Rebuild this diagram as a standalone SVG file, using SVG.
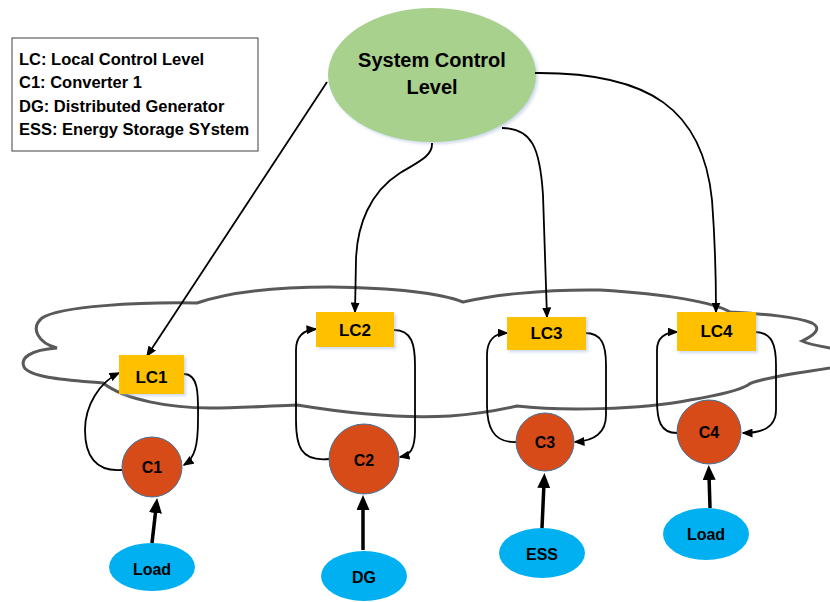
<svg xmlns="http://www.w3.org/2000/svg" width="830" height="602" viewBox="0 0 830 602">
<defs>
<style>
text{font-family:"Liberation Sans",Arial,sans-serif;font-weight:bold;fill:#000;}
.lbl{text-anchor:middle;}
.lc{fill:#FFC000;}
.conv{fill:#D64B17;stroke:#41719C;stroke-width:1;}
.src{fill:#00B0F0;}
.c{fill:none;stroke:#000;stroke-width:1.8;marker-end:url(#ah);}
.t{fill:none;stroke:#000;stroke-width:3.5;marker-end:url(#ahb);}
</style>
<marker id="ah" markerUnits="userSpaceOnUse" markerWidth="11" markerHeight="9" refX="9.5" refY="4.5" orient="auto">
<path d="M0,0 L11,4.5 L0,9 z" fill="#000"/>
</marker>
<marker id="ahb" markerUnits="userSpaceOnUse" markerWidth="15" markerHeight="13" refX="5" refY="6.5" orient="auto">
<path d="M0,0 L15,6.5 L0,13 z" fill="#000"/>
</marker>
<filter id="sh" x="-10%" y="-10%" width="130%" height="130%">
<feGaussianBlur in="SourceAlpha" stdDeviation="1.5"/>
<feOffset dx="1.5" dy="1.5" result="b"/>
<feFlood flood-color="#9DB4D8" flood-opacity="0.5"/>
<feComposite in2="b" operator="in"/>
<feMerge><feMergeNode/><feMergeNode in="SourceGraphic"/></feMerge>
</filter>
</defs>

<g id="legend">
<rect x="12" y="38" width="246" height="113" fill="#fff" stroke="#404040" stroke-width="1"/>
<text x="19" y="65" font-size="16.5">LC: Local Control Level</text>
<text x="19" y="88" font-size="16.5">C1: Converter 1</text>
<text x="19" y="112" font-size="16.5">DG: Distributed Generator</text>
<text x="19" y="135" font-size="16.5">ESS: Energy Storage SYstem</text>
</g>

<g id="cloud">
<path d="M197,303 C140,302 60,306 42,318 C30,328 38,343 57,348 C30,350 20,358 24,367 C30,378 70,380 103,383 C125,400 170,408 210,408 C240,408 270,406 297,405 C340,412 400,419 450,416 C480,414 500,410 517,406 C560,411 640,410 690,400 C720,395 740,390 748,385 C752,380 790,374 830,368 C850,364 850,350 830,348 C818,346 808,344 802,341 C815,335 822,328 812,323 C795,316 760,314 730,312 C715,303 670,294 600,290 C540,289 490,296 463,302 C440,293 400,288 330,287 C260,287 220,295 197,303 Z" fill="none" stroke="#595959" stroke-width="3"/>
</g>

<g id="system">
<ellipse cx="432" cy="75" rx="104" ry="67" fill="#A9D18E" filter="url(#sh)"/>
<text class="lbl" x="432" y="67" font-size="20">System Control</text>
<text class="lbl" x="432" y="94" font-size="20">Level</text>
</g>

<g id="connectors">
<path class="c" d="M327,82 L147,356"/>
<path class="c" d="M432,143 C433,156 418,162 400,173 C370,192 357,225 356,260 L355,312"/>
<path class="c" d="M502,128 C532,128 540,148 543,195 L547,317"/>
<path class="c" d="M535,73 C650,72 703,110 712,200 C715,240 716,280 716,312"/>
<path class="c" d="M122,470 C95,472 85,455 85,430 C85,405 100,382 119,373"/>
<path class="c" d="M184,374 C200,374 198,400 198,420 C198,445 195,458 184,465"/>
<path class="c" d="M329,459 C300,462 296,445 296,420 L296,350 C296,337 303,330 316,329"/>
<path class="c" d="M394,330 C412,330 415,345 415,365 L415,430 C415,450 410,455 400,457"/>
<path class="c" d="M516,442 C492,443 487,425 487,405 L487,355 C487,340 495,333 507,333"/>
<path class="c" d="M585,333 C602,333 606,345 606,365 L606,415 C606,435 592,441 575,442"/>
<path class="c" d="M677,433 C660,433 657,420 657,400 L657,350 C657,338 665,332 677,332"/>
<path class="c" d="M755,332 C772,332 776,345 776,365 L776,410 C776,428 762,433 743,433"/>
<path class="t" d="M152,543 L156,508"/>
<path class="t" d="M363,550 L363,505"/>
<path class="t" d="M542,528 L544,483"/>
<path class="t" d="M710,508 L709,475"/>
</g>

<g id="LC1"><rect class="lc" x="119" y="355" width="65" height="39" filter="url(#sh)"/><text class="lbl" x="151.5" y="383" font-size="17">LC1</text></g>
<g id="LC2"><rect class="lc" x="316" y="312" width="78" height="35" filter="url(#sh)"/><text class="lbl" x="355" y="336" font-size="17">LC2</text></g>
<g id="LC3"><rect class="lc" x="507" y="317" width="79" height="33" filter="url(#sh)"/><text class="lbl" x="546.5" y="339" font-size="17">LC3</text></g>
<g id="LC4"><rect class="lc" x="677" y="312" width="79" height="39" filter="url(#sh)"/><text class="lbl" x="716.5" y="337" font-size="17">LC4</text></g>

<g id="C1"><circle class="conv" cx="152" cy="467" r="30"/><text class="lbl" x="152" y="473" font-size="16">C1</text></g>
<g id="C2"><circle class="conv" cx="364" cy="459" r="35"/><text class="lbl" x="364" y="466" font-size="16">C2</text></g>
<g id="C3"><circle class="conv" cx="545" cy="442" r="29"/><text class="lbl" x="545" y="448" font-size="16">C3</text></g>
<g id="C4"><circle class="conv" cx="709" cy="432" r="32"/><text class="lbl" x="709" y="438" font-size="16">C4</text></g>

<g id="Load1"><ellipse class="src" cx="152" cy="567" rx="43" ry="24"/><text class="lbl" x="152" y="575" font-size="16">Load</text></g>
<g id="DG"><ellipse class="src" cx="364" cy="576" rx="43" ry="25"/><text class="lbl" x="364" y="583" font-size="16">DG</text></g>
<g id="ESS"><ellipse class="src" cx="542" cy="553" rx="43" ry="25"/><text class="lbl" x="542" y="560" font-size="16">ESS</text></g>
<g id="Load4"><ellipse class="src" cx="706" cy="534" rx="43" ry="26"/><text class="lbl" x="706" y="540" font-size="16">Load</text></g>
</svg>
